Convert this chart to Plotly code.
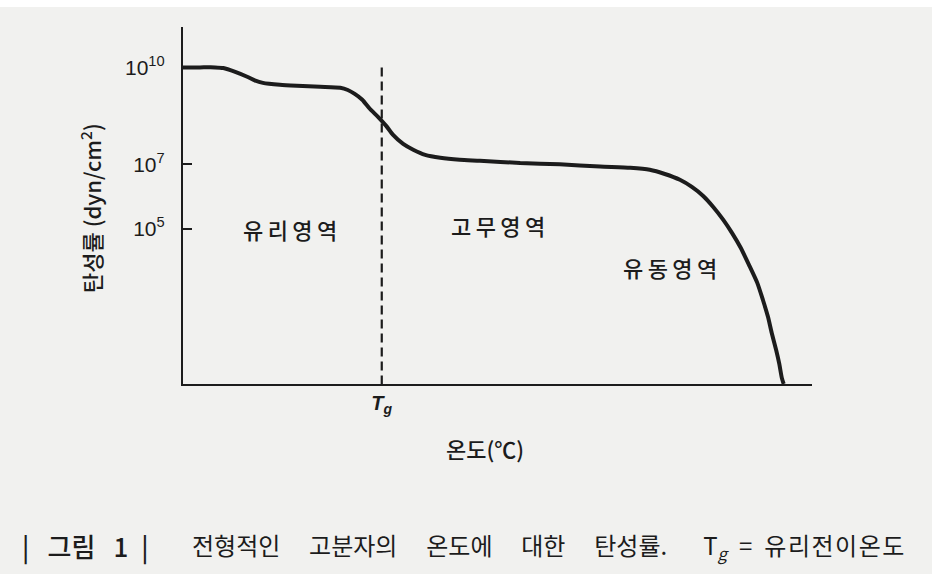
import plotly.graph_objects as go

# ---- data ----
# temperature axis is unitless (0..100 across the drawn axis)
temperature = [0.0, 2.7, 5.1, 6.4, 8.3, 10.2, 11.4, 12.7, 15.4, 18.1, 21.8, 25.0, 26.2,
               27.3, 28.5, 29.7, 31.0, 32.3, 33.4, 35.0, 36.6, 38.5, 40.9, 44.0, 47.2,
               53.6, 59.9, 66.3, 71.1, 74.2, 76.6, 79.0, 80.9, 82.7, 84.3, 85.9, 87.3,
               88.6, 90.0, 91.3, 92.2, 93.0, 93.6, 94.3, 94.8, 95.2, 95.5]
# log10 of modulus (dyn/cm^2)
log_modulus = [10.00, 10.00, 10.00, 9.98, 9.86, 9.71, 9.60, 9.52, 9.46, 9.43, 9.40, 9.37, 9.30,
               9.18, 9.00, 8.72, 8.47, 8.19, 7.91, 7.63, 7.45, 7.29, 7.20, 7.14, 7.11,
               7.04, 7.00, 6.93, 6.89, 6.83, 6.70, 6.52, 6.30, 6.02, 5.68, 5.28, 4.87,
               4.44, 3.88, 3.33, 2.80, 2.28, 1.78, 1.25, 0.82, 0.39, 0.20]
modulus = [10 ** v for v in log_modulus]

TG = 31.6
tg_line_modulus = [1e10, 10 ** 0.2]

y_tick_vals = [1e5, 1e7, 1e10]
y_tick_text = ["10<sup>5</sup>", "10<sup>7</sup>", "10<sup>10</sup>"]

regions = ["유리영역", "고무영역", "유동영역"]
region_x = [17.0, 50.1, 77.4]
region_logy = [5.0, 5.12, 3.82]

INK = "#1c1c1c"
BG = "#f1f1ef"
KR = "Noto Sans CJK KR"

fig = go.Figure()
fig.add_trace(go.Scatter(
    x=temperature, y=modulus, mode="lines",
    line=dict(color=INK, width=4, shape="spline", smoothing=0.6),
    hoverinfo="skip", showlegend=False))
fig.add_trace(go.Scatter(
    x=[TG, TG], y=tg_line_modulus, mode="lines",
    line=dict(color=INK, width=2.2, dash="9px,5px"),
    hoverinfo="skip", showlegend=False))

annotations = []
for name, xv, yv in zip(regions, region_x, region_logy):
    annotations.append(dict(
        x=xv, y=yv, xref="x", yref="y", text="\u2009".join(name), showarrow=False,
        font=dict(family=KR, size=22, color=INK, weight=500),
        xanchor="center", yanchor="middle"))

# axis titles
annotations.append(dict(
    x=(485 - 183) / 629, y=(384 - 448) / 357, xref="paper", yref="paper",
    text="온도(℃)", showarrow=False, font=dict(family=KR, size=22, color=INK, weight=500),
    xanchor="center", yanchor="middle"))
annotations.append(dict(
    x=(90 - 183) / 629, y=(384 - 208) / 357, xref="paper", yref="paper",
    text="탄성률 (dyn/cm<sup>2</sup>)", textangle=-90, showarrow=False,
    font=dict(family=KR, size=22, color=INK, weight=500),
    xanchor="center", yanchor="middle"))

# caption
annotations.append(dict(
    x=(20 - 183) / 629, y=(384 - 546) / 357, xref="paper", yref="paper",
    text="|\u2002\u2009그림\u2002\u20091\u2002|", showarrow=False,
    font=dict(family=KR, size=26, color=INK, weight=500),
    xanchor="left", yanchor="middle"))
annotations.append(dict(
    x=(190 - 183) / 629, y=(384 - 546) / 357, xref="paper", yref="paper",
    text=("전형적인\u2003\u2009고분자의\u2003\u2009온도에\u2003\u2009대한\u2003\u2009"
          "탄성률.\u2003\u2002T<sub><i>g</i></sub>\u2002=\u2002"
          + "\u200a".join("유리전이온도")),
    showarrow=False, font=dict(family=KR, size=24, color=INK, weight=400),
    xanchor="left", yanchor="middle"))

fig.update_layout(
    width=932, height=574,
    margin=dict(l=183, r=120, t=27, b=190),
    paper_bgcolor=BG, plot_bgcolor=BG,
    annotations=annotations,
    shapes=[dict(type="rect", xref="paper", yref="paper", x0=-0.4, x1=1.3,
                 y0=1 + 20 / 357, y1=1 + 40 / 357, fillcolor="#ffffff",
                 line=dict(width=0), layer="below")],
    xaxis=dict(range=[0, 100], showgrid=False, zeroline=False, showline=True,
               linecolor=INK, linewidth=2.2, ticks="", tickvals=[TG],
               ticktext=["<b><i>T<sub>g</sub></i></b>"],
               tickfont=dict(family="Liberation Sans", size=20, color=INK),
               ticklabelstandoff=0),
    yaxis=dict(type="log", range=[0.2, 11.25], showgrid=False, zeroline=False,
               showline=True, linecolor=INK, linewidth=2.2,
               ticks="inside", ticklen=9, tickwidth=2, tickcolor=INK,
               tickvals=y_tick_vals, ticktext=y_tick_text,
               tickfont=dict(family="Liberation Sans", size=21, color=INK),
               ticklabelstandoff=12),
)

fig.write_html("out.html", config={"displayModeBar": False},
               post_script="document.body.style.margin='0px';document.body.style.background='%s';" % BG)
